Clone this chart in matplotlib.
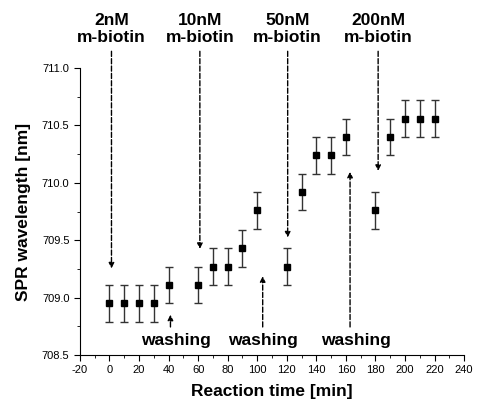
import matplotlib
matplotlib.use('Agg')
import matplotlib.pyplot as plt
from matplotlib.ticker import MultipleLocator

plt.rcParams['font.family'] = ['Liberation Sans', 'DejaVu Sans']
plt.rcParams['axes.unicode_minus'] = False

# data
time_min = [0, 10, 20, 30, 40, 60, 70, 80, 90, 100, 120, 130, 140, 150, 160, 180, 190, 200, 210, 220]
wavelength = [708.95, 708.95, 708.95, 708.95, 709.11, 709.11, 709.27, 709.27, 709.43, 709.76,
              709.27, 709.92, 710.24, 710.24, 710.40, 709.76, 710.40, 710.56, 710.56, 710.56]
err = [0.16] * len(time_min)

# injections (label, x, arrow tip y)
inject_labels = ['2nM\nm-biotin', '10nM\nm-biotin', '50nM\nm-biotin', '200nM\nm-biotin']
inject_x = [1.4, 61.2, 120.6, 181.8]
inject_tip = [709.23, 709.40, 709.50, 710.08]
# washing (arrow x, arrow tip y, text x)
wash_x = [41.3, 103.7, 162.8]
wash_tip = [708.875, 709.21, 710.12]
wash_text_x = [45, 104, 167]

fig = plt.figure(figsize=(4.81, 4.05), dpi=100)
ax = fig.add_axes([0.166, 0.1235, 0.799, 0.7085])

ax.errorbar(time_min, wavelength, yerr=err, fmt='s', color='black', ms=5,
            ecolor='#333333', elinewidth=1, capsize=3, capthick=1)

ax.set_xlim(-20, 240)
ax.set_ylim(708.5, 711.0)
ax.xaxis.set_major_locator(MultipleLocator(20))
ax.xaxis.set_minor_locator(MultipleLocator(10))
ax.yaxis.set_major_locator(MultipleLocator(0.5))
ax.yaxis.set_minor_locator(MultipleLocator(0.25))
ax.yaxis.set_major_formatter(plt.FormatStrFormatter('%.1f'))
ax.tick_params(which='both', direction='out', labelsize=8)
ax.tick_params(which='major', length=4)
ax.tick_params(which='minor', length=2)
for s in ['top', 'right']:
    ax.spines[s].set_visible(False)

ax.set_xlabel('Reaction time [min]', fontsize=12.5, fontweight='bold', labelpad=6)
ax.set_ylabel('SPR wavelength [nm]', fontsize=12.5, fontweight='bold', labelpad=8)

arrow = dict(arrowstyle='-|>', linestyle='--', color='black', lw=1, mutation_scale=8)
for lab, x, tip in zip(inject_labels, inject_x, inject_tip):
    ax.annotate('', xy=(x, tip), xytext=(x, 711.17), arrowprops=arrow, annotation_clip=False)
    ax.text(x, 711.2, lab, ha='center', va='bottom', fontsize=12.5, fontweight='bold',
            linespacing=1.2, clip_on=False)

for x, tip, tx in zip(wash_x, wash_tip, wash_text_x):
    ax.annotate('', xy=(x, tip), xytext=(x, 708.72), arrowprops=arrow)
    ax.text(tx, 708.63, 'washing', ha='center', va='center', fontsize=12.5, fontweight='bold')

fig.savefig('out.png', dpi=100)
